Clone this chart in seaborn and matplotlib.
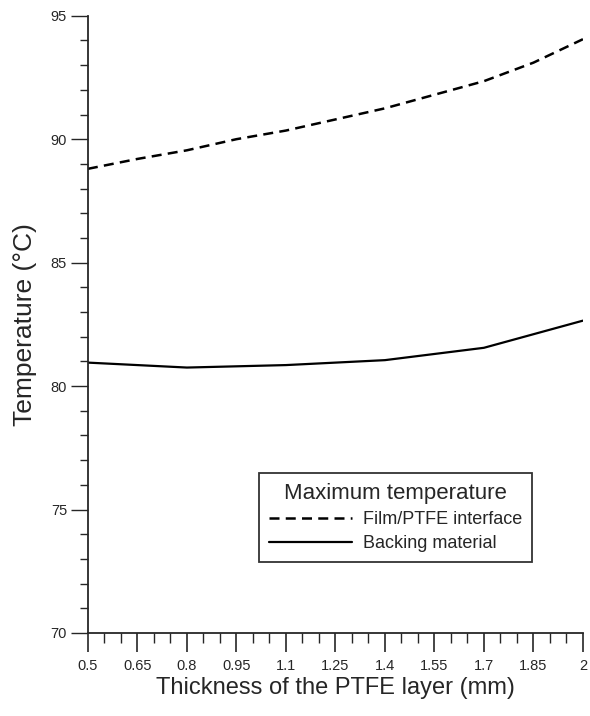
import numpy as np
import pandas as pd
import seaborn as sns
import matplotlib.pyplot as plt
from matplotlib.ticker import MultipleLocator

# Values
thickness = [0.5, 0.65, 0.8, 0.95, 1.1, 1.25, 1.4, 1.55, 1.7, 1.85, 2.0]
interface_temp = [88.8, 89.2, 89.55, 90.0, 90.35, 90.8, 91.25, 91.8, 92.35, 93.1, 94.05]
backing_temp = [80.95, 80.85, 80.75, 80.8, 80.85, 80.95, 81.05, 81.3, 81.55, 82.1, 82.65]
xtick_labels = ['0.5', '0.65', '0.8', '0.95', '1.1', '1.25', '1.4', '1.55', '1.7', '1.85', '2']

df = pd.DataFrame({
    'Thickness': thickness * 2,
    'Temperature': interface_temp + backing_temp,
    'Series': ['Film/PTFE interface'] * len(thickness) + ['Backing material'] * len(thickness),
})

sns.set_style('ticks')
plt.rcParams['font.family'] = ['Liberation Sans', 'DejaVu Sans']

fig = plt.figure(figsize=(5.9, 7.16), dpi=100)
ax = fig.add_axes([0.149, 0.116, 0.839, 0.862])

sns.lineplot(data=df[df['Series'] == 'Film/PTFE interface'], x='Thickness', y='Temperature',
             ax=ax, color='black', lw=1.8, label='Film/PTFE interface')
sns.lineplot(data=df[df['Series'] == 'Backing material'], x='Thickness', y='Temperature',
             ax=ax, color='black', lw=1.6, label='Backing material')
ax.lines[0].set_linestyle((0, (4, 2.5)))

ax.set_xlim(0.5, 2.0)
ax.set_ylim(70, 95)
ax.set_xticks(thickness)
ax.set_xticklabels(xtick_labels, fontsize=10.5)
ax.set_yticks([70, 75, 80, 85, 90, 95])
ax.tick_params(axis='y', labelsize=10.5)
ax.xaxis.set_minor_locator(MultipleLocator(0.05))
ax.yaxis.set_minor_locator(MultipleLocator(1))
ax.tick_params(axis='x', which='major', length=14, width=1.2, pad=5)
ax.tick_params(axis='x', which='minor', length=7, width=1)
ax.tick_params(axis='y', which='major', length=12, width=1, pad=3)
ax.tick_params(axis='y', which='minor', length=6, width=1)

sns.despine(ax=ax)
ax.spines['left'].set_linewidth(1.3)
ax.spines['bottom'].set_linewidth(1.3)

ax.set_xlabel('Thickness of the PTFE layer (mm)', fontsize=17, labelpad=3)
ax.set_ylabel('Temperature (°C)', fontsize=19, labelpad=10)

leg = ax.legend(title='Maximum temperature', loc='upper left', bbox_to_anchor=(0.327, 0.274),
                fontsize=13, title_fontsize=16, frameon=True, fancybox=False,
                edgecolor='black', handlelength=4.6, handletextpad=0.6, borderpad=0.55,
                labelspacing=0.4)
leg.get_frame().set_linewidth(1.3)

fig.savefig('out.png', dpi=100)
